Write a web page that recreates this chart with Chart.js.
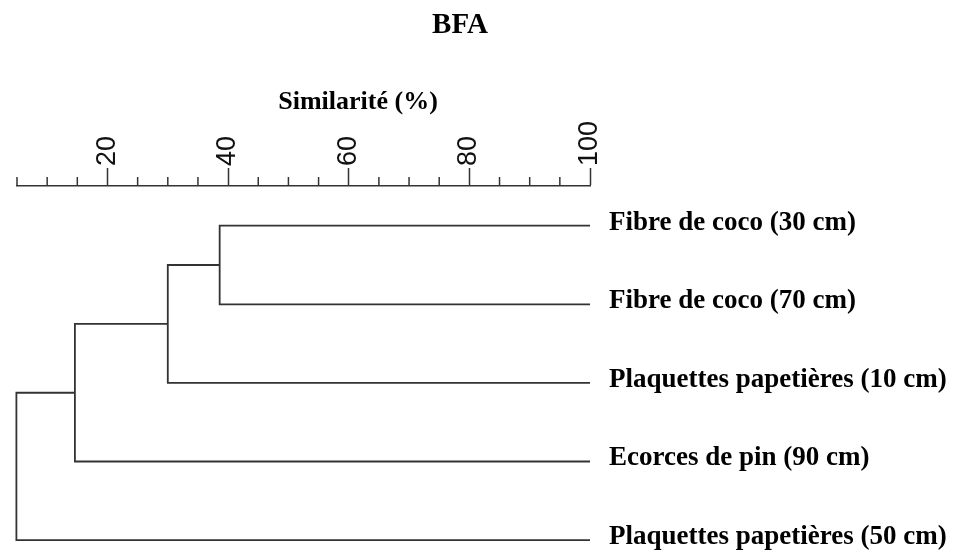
<!DOCTYPE html>
<html>
<head>
<meta charset="utf-8">
<script src="https://cdn.jsdelivr.net/npm/chart.js@4.4.0/dist/chart.umd.min.js"></script>
<style>
  html, body { margin: 0; padding: 0; background: #fff; }
  #wrap { width: 953px; height: 553px; position: relative; }
</style>
</head>
<body>
<div id="wrap"><canvas id="dendro"></canvas></div>
<script>
// leaves, listed top to bottom
const leafLabels = [
    'Fibre de coco (30 cm)',
    'Fibre de coco (70 cm)',
    'Plaquettes papetières (10 cm)',
    'Ecorces de pin (90 cm)',
    'Plaquettes papetières (50 cm)'
];
const leafRows = [0, 1, 2, 3, 4];
const leafSimilarity = 100;

// ids 0-4 are leaves, merge i makes cluster 5 + i
const mergeFirst = [0, 5, 6, 7];
const mergeSecond = [1, 2, 3, 4];
const mergeSimilarity = [38.6, 30.0, 14.6, 4.9];

// axis
const majorTicks = [20, 40, 60, 80, 100];
const majorTickLabels = ['20', '40', '60', '80', '100'];
const minorTicks = [5, 10, 15, 25, 30, 35, 45, 50, 55, 65, 70, 75, 85, 90, 95];

const chartTitle = 'BFA';
const axisTitle = 'Similarité (%)';

const LINE = '#333333';
const SERIF = '"Liberation Serif", "Times New Roman", serif';

// node positions: x = similarity, y = row
const nodeX = leafRows.map(() => leafSimilarity);
const nodeY = leafRows.slice();
mergeFirst.forEach((a, i) => {
    const b = mergeSecond[i];
    nodeX.push(mergeSimilarity[i]);
    nodeY.push((nodeY[a] + nodeY[b]) / 2);
});

const datasets = mergeFirst.map((a, i) => {
    const b = mergeSecond[i];
    const s = mergeSimilarity[i];
    return {
        data: [
            { x: nodeX[a], y: nodeY[a] },
            { x: s, y: nodeY[a] },
            { x: s, y: nodeY[b] },
            { x: nodeX[b], y: nodeY[b] }
        ],
        showLine: true,
        borderColor: LINE,
        borderWidth: 1.8,
        pointRadius: 0,
        fill: false,
        tension: 0,
        clip: false
    };
});

// minor ticks, axis title and chart title
const axisExtras = {
    id: 'axisExtras',
    afterDraw(chart) {
        const ctx = chart.ctx;
        const xs = chart.scales.x;
        const base = xs.bottom;
        ctx.save();
        ctx.strokeStyle = LINE;
        ctx.lineWidth = 1.5;
        minorTicks.forEach(v => {
            const px = xs.getPixelForValue(v);
            ctx.beginPath();
            ctx.moveTo(px, base);
            ctx.lineTo(px, base - 9);
            ctx.stroke();
        });
        ctx.fillStyle = '#000';
        ctx.textAlign = 'center';
        ctx.textBaseline = 'alphabetic';
        ctx.font = 'bold 26px ' + SERIF;
        ctx.fillText(axisTitle, 358, 109);
        ctx.font = 'bold 29px ' + SERIF;
        ctx.fillText(chartTitle, 460, 33);
        ctx.restore();
    }
};

new Chart(document.getElementById('dendro'), {
    type: 'scatter',
    data: { datasets: datasets },
    plugins: [axisExtras],
    options: {
        responsive: true,
        maintainAspectRatio: false,
        animation: false,
        layout: { padding: { left: 17, right: 0, top: 40, bottom: 0 } },
        plugins: {
            legend: { display: false },
            tooltip: { enabled: false },
            title: { display: false }
        },
        scales: {
            x: {
                type: 'linear',
                position: 'top',
                min: 5,
                max: 100,
                afterBuildTicks: s => { s.ticks = majorTicks.map(v => ({ value: v })); },
                afterFit: s => {
                    s.height = 146;
                    s.paddingLeft = 0;
                    s.paddingRight = 0;
                },
                grid: {
                    drawOnChartArea: false,
                    tickLength: 18,
                    tickColor: LINE,
                    tickWidth: 1.5
                },
                border: { display: true, color: LINE, width: 1.5 },
                ticks: {
                    minRotation: 90,
                    maxRotation: 90,
                    padding: 2,
                    labelOffset: 32,
                    color: '#111',
                    font: { family: '"Liberation Sans", Arial, sans-serif', size: 27 },
                    callback: v => majorTickLabels[majorTicks.indexOf(v)] || ''
                }
            },
            y: {
                type: 'linear',
                position: 'right',
                reverse: true,
                min: -0.505,
                max: 4.164,
                afterBuildTicks: s => { s.ticks = leafRows.map(v => ({ value: v })); },
                afterFit: s => {
                    s.width = 363;
                    s.paddingTop = 0;
                    s.paddingBottom = 0;
                },
                grid: { display: false, drawTicks: false },
                border: { display: false },
                ticks: {
                    padding: 19,
                    labelOffset: -3,
                    color: '#000',
                    font: { family: SERIF, size: 27, weight: 'bold' },
                    callback: v => leafLabels[leafRows.indexOf(v)]
                }
            }
        }
    }
});
</script>
</body>
</html>
